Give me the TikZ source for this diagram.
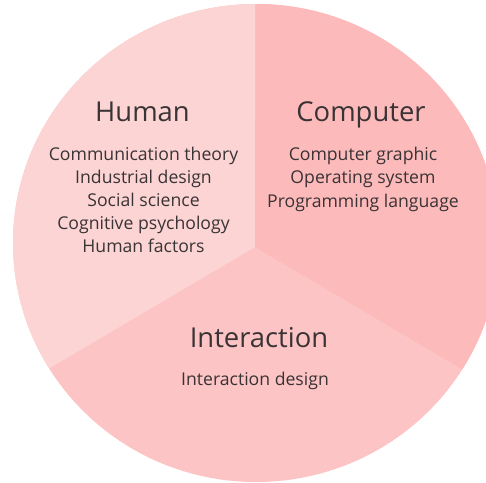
\documentclass[tikz,border=0pt]{standalone}
\usepackage{fontspec}
\setmainfont{Open Sans}
\definecolor{hum}{HTML}{FCD4D4}
\definecolor{comp}{HTML}{FDBABA}
\definecolor{inter}{HTML}{FCC4C4}
\definecolor{txt}{HTML}{3A3335}
\begin{document}
\begin{tikzpicture}[x=1bp,y=-1bp,
  title/.style={font=\fontsize{27.5}{31}\selectfont, text=txt, anchor=base, inner sep=0pt},
  item/.style={font=\fontsize{17.7}{21}\selectfont, text=txt, anchor=base, inner sep=0pt}]
\useasboundingbox (0,0) rectangle (486,483);
\coordinate (J) at (255,247);
\begin{scope}
\clip (256,243) ellipse [x radius=243, y radius=239];
\fill[inter] (-10,-10) rectangle (500,500);
\fill[hum] (J) -- (255.5,-10) -- (-10,-10) -- (-45,424) -- cycle;
\fill[comp] (J) -- (255.5,-10) -- (510,-10) -- (555,424) -- cycle;
\end{scope}
% Human
\node[title] (human) at (142.5,122) {Human};
\node[item] (h1) at (143.5,161) {Communication theory};
\node[item] (h2) at (143.5,183.8) {Industrial design};
\node[item] (h3) at (143.5,206.5) {Social science};
\node[item] (h4) at (143.5,229.3) {Cognitive psychology};
\node[item] (h5) at (143.5,252) {Human factors};
% Computer
\node[title] (computer) at (361,121.5) {Computer};
\node[item] (c1) at (363,161) {Computer graphic};
\node[item] (c2) at (363,184) {Operating system};
\node[item] (c3) at (363,207) {Programming language};
% Interaction
\node[title] (interaction) at (259,347.5) {Interaction};
\node[item] (i1) at (255,385) {Interaction design};
\end{tikzpicture}
\end{document}
